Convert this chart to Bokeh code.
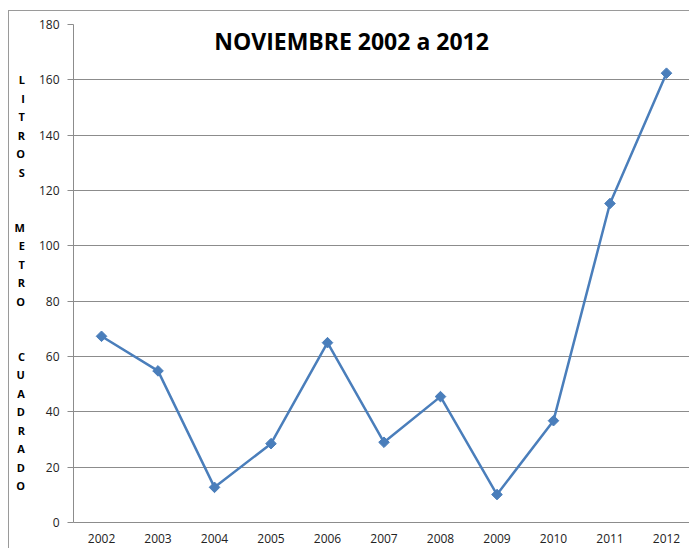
import math
from bokeh.plotting import figure
from bokeh.models import Range1d, FixedTicker, Label, ColumnDataSource
from bokeh.embed import file_html
from bokeh.resources import INLINE

years = [2002, 2003, 2004, 2005, 2006, 2007, 2008, 2009, 2010, 2011, 2012]
litros = [67.3, 54.8, 12.7, 28.5, 65.0, 29.0, 45.5, 10.1, 36.8, 115.3, 162.4]
y_ticks = [0, 20, 40, 60, 80, 100, 120, 140, 160, 180]
title_text = "NOVIEMBRE  2002 a 2012"
ylabel_words = ["LITROS", "METRO", "CUADRADO"]

FONT = "Open Sans"
BLUE = "#4a7ebb"
GRID = "#8c8c8c"

p = figure(width=681, height=538, output_backend="svg", toolbar_location=None,
           x_range=Range1d(2001.504, 2012.425), y_range=Range1d(0, 180),
           min_border_left=64, min_border_right=0, min_border_top=13, min_border_bottom=27)
p.styles = {"margin-left": "8px", "margin-top": "10px",
            "border-left": "1px solid #9a9a9a", "border-top": "1px solid #9a9a9a"}
p.outline_line_color = None
p.background_fill_color = "white"
p.border_fill_color = "white"

# axes
p.xaxis.ticker = FixedTicker(ticks=years)
p.xaxis.major_tick_line_color = None
p.xaxis.minor_tick_line_color = None
p.xaxis.axis_line_color = GRID
p.xaxis.major_label_standoff = 5
p.xaxis.major_label_text_font = FONT
p.xaxis.major_label_text_font_size = "12px"
p.xaxis.major_label_text_color = "#222222"

p.yaxis.ticker = FixedTicker(ticks=y_ticks)
p.yaxis.minor_tick_line_color = None
p.yaxis.axis_line_color = GRID
p.yaxis.major_tick_line_color = GRID
p.yaxis.major_tick_out = 6
p.yaxis.major_tick_in = 0
p.yaxis.major_label_standoff = 8
p.yaxis.major_label_text_font = FONT
p.yaxis.major_label_text_font_size = "12px"
p.yaxis.major_label_text_color = "#222222"

# vertical stacked letters as the y axis label
p.yaxis.axis_label = "\n" + "\n\n\n".join("\n".join(w) for w in ylabel_words)
p.yaxis.axis_label_orientation = "horizontal"
p.yaxis.axis_label_text_font = FONT
p.yaxis.axis_label_text_font_style = "bold"
p.yaxis.axis_label_text_font_size = "11px"
p.yaxis.axis_label_text_line_height = 1.23
p.yaxis.axis_label_text_color = "black"
p.yaxis.axis_label_standoff = 11

p.xgrid.grid_line_color = None
p.ygrid.grid_line_color = GRID
p.ygrid.grid_line_width = 1

src = ColumnDataSource(dict(x=years, y=litros))
p.line("x", "y", source=src, line_color=BLUE, line_width=2.5)
p.scatter("x", "y", source=src, marker="square", angle=math.pi / 4, size=7.5,
          fill_color=BLUE, line_color=BLUE)

# title inside plot area
p.add_layout(Label(x=2006.478, y=174.2, text=title_text, text_align="center",
                   text_baseline="middle", text_font=FONT, text_font_style="bold",
                   text_font_size="23px", text_color="black"))

open("out.html", "w").write(file_html(p, INLINE))
